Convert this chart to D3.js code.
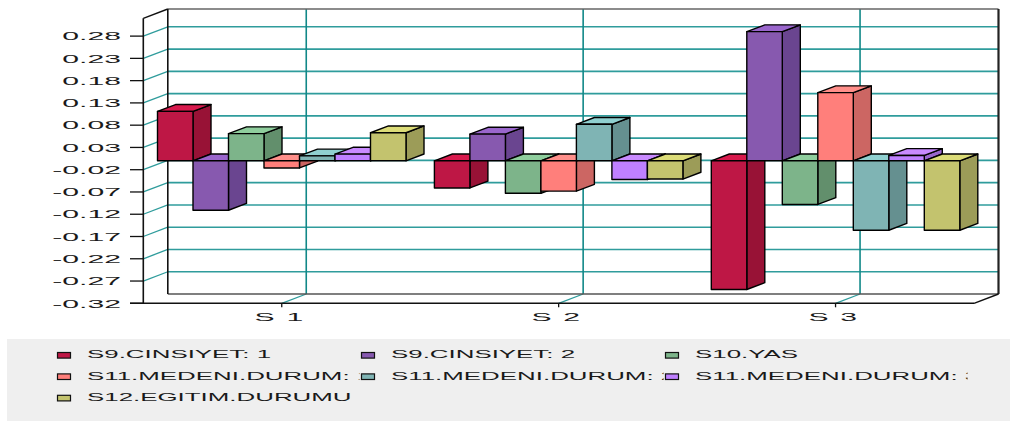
<!DOCTYPE html>
<html>
<head>
<meta charset="utf-8">
<script src="https://cdn.jsdelivr.net/npm/d3@7"></script>
<style>
  html, body { margin: 0; padding: 0; background: #fff; }
  svg { display: block; }
</style>
</head>
<body>
<div id="chart"></div>
<script>
// categories on the x axis
const categories = ["S1", "S2", "S3"];

// one array per series, values for S1, S2, S3
const cinsiyet1 = [0.111, -0.061, -0.289];
const cinsiyet2 = [-0.111, 0.060, 0.290];
const yas = [0.061, -0.073, -0.098];
const medeni1 = [-0.016, -0.068, 0.153];
const medeni2 = [0.011, 0.082, -0.156];
const medeni3 = [0.015, -0.042, 0.012];
const egitim = [0.063, -0.041, -0.156];

const seriesNames = ["S9.CINSIYET: 1", "S9.CINSIYET: 2", "S10.YAS",
  "S11.MEDENI.DURUM: 1", "S11.MEDENI.DURUM: 2", "S11.MEDENI.DURUM: 3",
  "S12.EGITIM.DURUMU"];
const seriesValues = [cinsiyet1, cinsiyet2, yas, medeni1, medeni2, medeni3, egitim];

// y tick labels
const yTicks = [-0.32, -0.27, -0.22, -0.17, -0.12, -0.07, -0.02, 0.03, 0.08, 0.13, 0.18, 0.23, 0.28];
const yTickLabels = ["-0.32", "-0.27", "-0.22", "-0.17", "-0.12", "-0.07", "-0.02",
  "0.03", "0.08", "0.13", "0.18", "0.23", "0.28"];

// face colours: front, side, top
const frontColors = ["#be1745", "#8759af", "#7db48a", "#ff7f7b", "#7fb4b4", "#bf80ff", "#c3c36e"];
const sideColors  = ["#981236", "#6a4590", "#628f6c", "#cc6663", "#659090", "#9966cc", "#9c9c58"];
const topColors   = ["#d81a4d", "#9a66cc", "#8fce9d", "#ff8f8a", "#90d0d0", "#c98aff", "#dcdc78"];

const width = 1016, height = 421;
const wall = { dx: 24.5, dy: 9.3 };   // depth of the chart box
const bar = { dx: 18, dy: 6.8 };      // depth of a bar
const grid = "#2f9c9c";

const svg = d3.select("#chart").append("svg")
  .attr("width", width).attr("height", height);

const y = d3.scaleLinear().domain([-0.32, 0.32]).range([303.3, 18.3]);
const x = d3.scaleBand().domain(categories).range([143.3, 974]);
const xs = d3.scaleBand().domain(seriesNames).range([0, x.bandwidth()]).paddingOuter(0.4);

const left = x.range()[0], right = x.range()[1];
const yb = y.range()[0], yt = y.range()[1];

// back wall gridlines
const g = svg.append("g");
yTicks.slice(1).forEach(v => {
  g.append("line")
    .attr("x1", left + wall.dx).attr("x2", right + wall.dx)
    .attr("y1", y(v) - wall.dy).attr("y2", y(v) - wall.dy)
    .attr("stroke", grid).attr("stroke-width", 1.6);
  g.append("line")
    .attr("x1", left).attr("y1", y(v))
    .attr("x2", left + wall.dx).attr("y2", y(v) - wall.dy)
    .attr("stroke", grid).attr("stroke-width", 1.3);
});
categories.forEach(c => {
  const cx = x(c) + x.bandwidth() / 2;
  g.append("line")
    .attr("x1", cx + wall.dx).attr("x2", cx + wall.dx)
    .attr("y1", yt - wall.dy).attr("y2", yb - wall.dy)
    .attr("stroke", "#118888").attr("stroke-width", 1.6);
  g.append("line")
    .attr("x1", cx).attr("y1", yb)
    .attr("x2", cx + wall.dx).attr("y2", yb - wall.dy)
    .attr("stroke", grid).attr("stroke-width", 1.3);
});

// box edges
const edge = (x1, y1, x2, y2, col, w) => g.append("line")
  .attr("x1", x1).attr("y1", y1).attr("x2", x2).attr("y2", y2)
  .attr("stroke", col).attr("stroke-width", w);
edge(left + wall.dx, yt - wall.dy, right + wall.dx, yt - wall.dy, "#666", 1.5);
edge(left + wall.dx, yb - wall.dy, right + wall.dx, yb - wall.dy, "#555", 1.5);
edge(right + wall.dx, yt - wall.dy, right + wall.dx, yb - wall.dy, "#222", 2.2);
edge(left + wall.dx, yt - wall.dy, left + wall.dx, yb - wall.dy, "#111", 1.6);
edge(left, yt, left + wall.dx, yt - wall.dy, "#111", 1.4);
edge(left, yt, left, yb, "#111", 1.6);
edge(130, yb, right, yb, "#111", 1.5);
edge(right, yb, right + wall.dx, yb - wall.dy, "#111", 1.4);

// y ticks and labels
yTicks.forEach((v, i) => {
  edge(130, y(v), left, y(v), "#111", 1.3);
  svg.append("text")
    .attr("transform", `translate(121,${y(v) + 4.2}) scale(2.6,1)`)
    .attr("text-anchor", "end")
    .style("font-family", "Liberation Sans, Arial, sans-serif")
    .style("font-size", "11.6px")
    .style("fill", "#1a1a1a")
    .text(yTickLabels[i]);
});

// x ticks and labels (wide letter spacing as in the original)
categories.forEach(c => {
  const cx = x(c) + x.bandwidth() / 2;
  edge(cx, yb, cx, yb + 4, "#111", 1.3);
  svg.append("text")
    .attr("transform", `translate(${cx + 3},${yb + 17.4}) scale(2.6,1)`)
    .attr("text-anchor", "middle")
    .style("font-family", "Liberation Sans, Arial, sans-serif")
    .style("font-size", "11.6px")
    .style("letter-spacing", "4.5px")
    .style("fill", "#1a1a1a")
    .text(c);
});

// bars, drawn left to right
const bars = svg.append("g")
  .attr("stroke", "#000").attr("stroke-width", 1.4).attr("stroke-linejoin", "round");
categories.forEach((c, ci) => {
  seriesNames.forEach((s, si) => {
    const v = seriesValues[si][ci];
    const x0 = x(c) + xs(s), x1 = x0 + xs.bandwidth();
    const top = Math.min(y(v), y(0)), bot = Math.max(y(v), y(0));
    bars.append("polygon")
      .attr("points", [[x1, top], [x1 + bar.dx, top - bar.dy], [x1 + bar.dx, bot - bar.dy], [x1, bot]].join(" "))
      .attr("fill", sideColors[si]);
    bars.append("polygon")
      .attr("points", [[x0, top], [x0 + bar.dx, top - bar.dy], [x1 + bar.dx, top - bar.dy], [x1, top]].join(" "))
      .attr("fill", topColors[si]);
    bars.append("rect")
      .attr("x", x0).attr("y", top)
      .attr("width", xs.bandwidth()).attr("height", bot - top)
      .attr("fill", frontColors[si]);
  });
});

// legend
svg.append("rect")
  .attr("x", 7).attr("y", 339).attr("width", 1003).attr("height", 82)
  .attr("fill", "#efefef");

const defs = svg.append("defs");
const legend = svg.append("g");
seriesNames.forEach((s, i) => {
  const col = i % 3, row = Math.floor(i / 3);
  const lx = 57.5 + col * 304, ly = 358.3 + row * 21.4;
  defs.append("clipPath").attr("id", "lc" + i)
    .append("rect").attr("x", lx).attr("y", ly - 15).attr("width", 302).attr("height", 20);
  legend.append("rect")
    .attr("x", lx).attr("y", ly - 5.8).attr("width", 13).attr("height", 5.6)
    .attr("fill", frontColors[i]).attr("stroke", "#111").attr("stroke-width", 1.2);
  legend.append("g").attr("clip-path", `url(#lc${i})`)
    .append("text")
    .attr("transform", `translate(${lx + 29.5},${ly}) scale(2.42,1)`)
    .style("font-family", "Liberation Sans, Arial, sans-serif")
    .style("font-size", "10.7px")
    .style("fill", "#1a1a1a")
    .text(s);
});
</script>
</body>
</html>
